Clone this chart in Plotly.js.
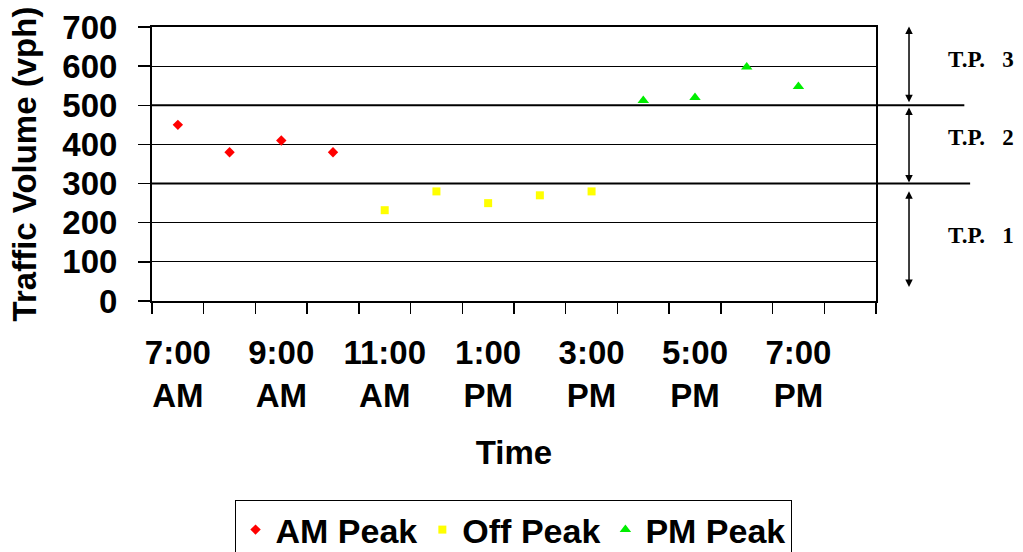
<!DOCTYPE html>
<html><head><meta charset="utf-8">
<script src="https://cdn.plot.ly/plotly-3.0.1.min.js"></script>
<style>html,body{margin:0;padding:0;background:#fff}#chart{width:1023px;height:552px}</style>
</head><body><div id="chart"></div>
<script>
// Hourly categories (last one empty, as in the original category axis)
const hours = ['7:00 AM','8:00 AM','9:00 AM','10:00 AM','11:00 AM','12:00 PM','1:00 PM','2:00 PM','3:00 PM','4:00 PM','5:00 PM','6:00 PM','7:00 PM','8:00 PM'];
const amHours = ['7:00 AM','8:00 AM','9:00 AM','10:00 AM'];
const amValues = [450, 380, 410, 380];
const offHours = ['11:00 AM','12:00 PM','1:00 PM','2:00 PM','3:00 PM'];
const offValues = [232, 280, 250, 270, 280];
const pmHours = ['4:00 PM','5:00 PM','6:00 PM','7:00 PM'];
const pmValues = [512, 520, 598, 548];
const tickHours = ['7:00 AM','9:00 AM','11:00 AM','1:00 PM','3:00 PM','5:00 PM','7:00 PM'];
const tickLabels = ['7:00<br>AM','9:00<br>AM','11:00<br>AM','1:00<br>PM','3:00<br>PM','5:00<br>PM','7:00<br>PM'];
const tpLabels = ['T.P.\u00a0\u00a0 1','T.P.\u00a0\u00a0 2','T.P.\u00a0\u00a0 3'];
const tpBounds = [0, 300, 500, 700];

const idx = h => hours.indexOf(h);
const FONT = 'Liberation Sans, Arial, sans-serif';

const traces = [
  {x: amHours.map(idx), y: amValues, name: 'AM Peak', type: 'scatter', mode: 'markers',
   marker: {symbol: 'diamond', color: '#ff0000', size: 8}},
  {x: offHours.map(idx), y: offValues, name: 'Off Peak', type: 'scatter', mode: 'markers',
   marker: {symbol: 'square', color: '#ffff00', size: 8}},
  {x: pmHours.map(idx), y: pmValues, name: 'PM Peak', type: 'scatter', mode: 'markers',
   marker: {symbol: 'triangle-up', color: '#00ee00', size: 10}}
];

const shapes = [
  {type: 'line', xref: 'paper', yref: 'y', x0: 0, x1: 1.13, y0: tpBounds[1], y1: tpBounds[1], line: {color: '#000', width: 2}},
  {type: 'line', xref: 'paper', yref: 'y', x0: 0, x1: 1.122, y0: tpBounds[2], y1: tpBounds[2], line: {color: '#000', width: 2}}
];

const arrowX = 1.0456;
const pads = [[36, 16], [3, 2], [8, -5]];
const annotations = [];
tpLabels.forEach((lab, i) => {
  const lo = tpBounds[i], hi = tpBounds[i + 1];
  annotations.push({xref: 'paper', yref: 'y', axref: 'pixel', ayref: 'y',
    x: arrowX, y: lo + pads[i][0], ax: 0, ay: hi - pads[i][1],
    showarrow: true, arrowhead: 2, startarrowhead: 2, arrowside: 'end+start',
    arrowsize: 1, arrowwidth: 1.5, arrowcolor: '#000', text: ''});
  annotations.push({xref: 'paper', yref: 'y', x: 1.096, y: (lo + hi) / 2, yshift: 7,
    xanchor: 'left', yanchor: 'middle',
    showarrow: false, text: '<b>' + lab + '</b>',
    font: {family: 'Liberation Serif, Times New Roman, serif', size: 23, color: '#000'}});
});

const layout = {
  width: 1023, height: 552,
  margin: {l: 152, r: 147, t: 27, b: 251, autoexpand: false},
  paper_bgcolor: '#fff', plot_bgcolor: '#fff',
  font: {family: FONT, color: '#000', size: 33},
  showlegend: true,
  legend: {orientation: 'h', xref: 'container', yref: 'container', x: 0.5015, xanchor: 'center',
    y: 52 / 552, yanchor: 'top',
    bordercolor: '#000', borderwidth: 1, font: {family: FONT, size: 34, weight: 'bold'},
    itemwidth: 30, tracegroupgap: 0},
  xaxis: {range: [-0.5, hours.length - 0.5], tickmode: 'array', automargin: false,
    tickvals: tickHours.map(idx), ticktext: tickLabels, ticks: '',
    tickfont: {family: FONT, size: 33, weight: 'bold'}, ticklabelstandoff: 21,
    minor: {tickmode: 'linear', tick0: -0.5, dtick: 1, ticks: 'outside', ticklen: 11, tickwidth: 1.5, tickcolor: '#000', showgrid: false},
    showgrid: false, zeroline: false, showline: true, linecolor: '#000', linewidth: 2, mirror: true,
    title: {text: '<b>Time</b>', font: {family: FONT, size: 33}, standoff: 28}},
  yaxis: {range: [0, 700], tickmode: 'linear', tick0: 0, dtick: 100, automargin: false,
    ticks: 'outside', ticklen: 12, tickwidth: 1.5, tickcolor: '#000',
    tickfont: {family: FONT, size: 33, weight: 'bold'}, ticklabelstandoff: 14,
    showgrid: true, gridcolor: '#000', gridwidth: 1, zeroline: false,
    showline: true, linecolor: '#000', linewidth: 2, mirror: true,
    title: {text: '<b>Traffic Volume (vph)</b>', font: {family: FONT, size: 33}, standoff: 16}},
  shapes: shapes,
  annotations: annotations
};

Plotly.newPlot('chart', traces, layout, {displayModeBar: false, staticPlot: true});
</script></body></html>
